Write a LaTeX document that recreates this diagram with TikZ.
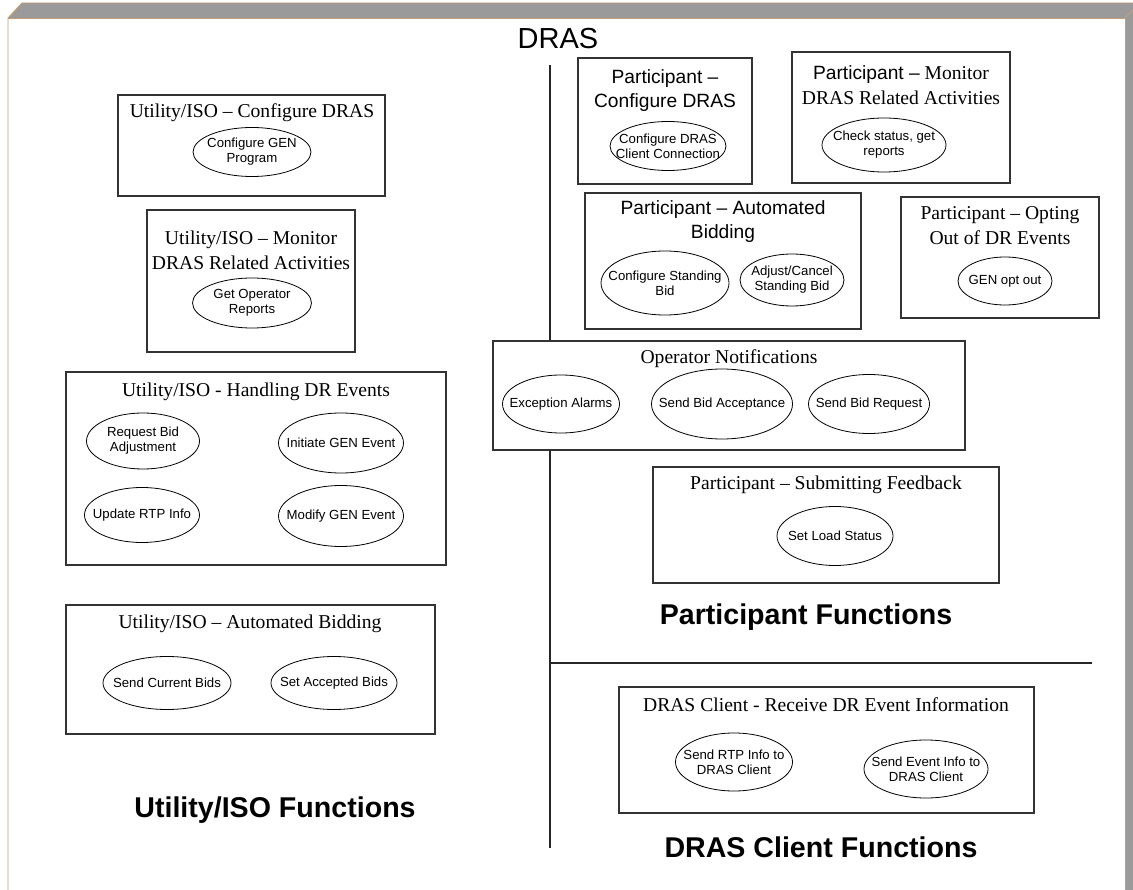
\documentclass[tikz,border=0pt]{standalone}
\usepackage{fontspec}
\setmainfont{Liberation Serif}
\setsansfont{Liberation Sans}
\usetikzlibrary{shapes.geometric}
\definecolor{framegray}{HTML}{9A9A9A}
\definecolor{frametan}{HTML}{C39E72}
\tikzset{
  box/.style={draw=black!80, fill=white, line width=1.1pt, inner sep=0pt, rectangle},
  ell/.style={ellipse, draw=black, fill=white, line width=0.8pt, inner xsep=-60pt, inner ysep=-20pt, align=center,
    font=\sffamily\fontsize{13.2}{15}\selectfont},
  sttl/.style={font=\rmfamily\fontsize{19.6}{25}\selectfont, align=center, inner sep=0pt},
  pttl/.style={font=\sffamily\fontsize{19.2}{24}\selectfont, align=center, inner sep=0pt},
  big/.style={font=\sffamily\bfseries\fontsize{28.6}{32}\selectfont, inner sep=0pt},
  divider/.style={draw=black!85, line width=1.1pt},
}
\begin{document}
\begin{tikzpicture}[x=1pt,y=-1pt]
\useasboundingbox (0,0) rectangle (1133,890);
% frame
\fill[framegray] (8,18) -- (22,3) -- (1133,3) -- (1133,890) -- (1125,890) -- (1125,18) -- cycle;
\draw[frametan, line width=0.9pt] (8,890) -- (8,18) -- (22,3) -- (1133,3);
\draw[frametan, line width=0.9pt] (8,18) -- (1125,18) -- (1125,890);
\draw[frametan, line width=0.9pt] (1125,18) -- (1133,10);

% title
\node[font=\sffamily\fontsize{29}{32}\selectfont, inner sep=0pt] (dras) at (558,39) {DRAS};

% dividers
\coordinate (vtop) at (550,65);
\coordinate (vbot) at (550,848);
\coordinate (hl) at (550,663);
\coordinate (hr) at (1092,663);
\draw[divider] (vtop) -- (vbot);
\draw[divider] (hl) -- (hr);

% ---------------- Utility/ISO side ----------------
\node[box, minimum width=267pt, minimum height=101pt] (b1) at (251.5,145.5) {};
\node[sttl] (t1) at (252,113) {Utility/ISO -- Configure DRAS};
\node[ell, minimum width=118pt, minimum height=49pt] (e1) at (252,152) {Configure GEN\\Program};

\node[box, minimum width=208pt, minimum height=142pt] (b2) at (251,281) {};
\node[sttl] (t2) at (251,250) {Utility/ISO -- Monitor\\DRAS Related Activities};
\node[ell, minimum width=119pt, minimum height=50pt] (e2) at (252,303) {Get Operator\\Reports};

\node[box, minimum width=380pt, minimum height=193pt] (b3) at (256,468.5) {};
\node[sttl] (t3) at (256,392) {Utility/ISO - Handling DR Events};
\node[ell, minimum width=113pt, minimum height=56pt] (e3) at (143,441) {Request Bid\\Adjustment};
\node[ell, minimum width=125pt, minimum height=60pt] (e4) at (341,443) {Initiate GEN Event};
\node[ell, minimum width=115pt, minimum height=55pt] (e5) at (142,515) {Update RTP Info};
\node[ell, minimum width=125pt, minimum height=61pt] (e6) at (341,516) {Modify GEN Event};

\node[box, minimum width=369pt, minimum height=129pt] (b4) at (250.5,669.5) {};
\node[sttl] (t4) at (250,624) {Utility/ISO -- Automated Bidding};
\node[ell, minimum width=128pt, minimum height=53pt] (e7) at (167,683) {Send Current Bids};
\node[ell, minimum width=126pt, minimum height=53pt] (e8) at (334,683) {Set Accepted Bids};

\node[big] (l1) at (275,810) {Utility/ISO Functions};

% ---------------- Participant side ----------------
\node[box, minimum width=174pt, minimum height=126pt] (b5) at (665,121) {};
\node[pttl] (t5) at (665,91) {Participant --\\Configure DRAS};
\node[ell, minimum width=116pt, minimum height=49pt] (e9) at (668,146) {Configure DRAS\\Client Connection};

\node[box, minimum width=218pt, minimum height=131pt] (b6) at (901,117.5) {};
\node[sttl] (t6) at (901,85) {{\sffamily\fontsize{19.2}{25}\selectfont Participant --} Monitor\\DRAS Related Activities};
\node[ell, minimum width=124pt, minimum height=54pt] (e10) at (884,145) {Check status, get\\reports};

\node[box, minimum width=276pt, minimum height=136pt] (b7) at (723,261) {};
\node[pttl] (t7) at (723,222) {Participant -- Automated\\Bidding};
\node[ell, minimum width=128pt, minimum height=64pt] (e11) at (665,283) {Configure Standing\\Bid};
\node[ell, minimum width=104pt, minimum height=52pt] (e12) at (792,280) {Adjust/Cancel\\Standing Bid};

\node[box, minimum width=198pt, minimum height=121pt] (b8) at (1000,257.5) {};
\node[sttl] (t8) at (1000,226) {Participant -- Opting\\Out of DR Events};
\node[ell, minimum width=94pt, minimum height=48pt] (e13) at (1005,281) {GEN opt out};

\node[box, minimum width=472pt, minimum height=109pt] (b9) at (729,395.5) {};
\node[sttl] (t9) at (729,359) {Operator Notifications};
\node[ell, minimum width=117pt, minimum height=58pt] (e14) at (561,404) {Exception Alarms};
\node[ell, minimum width=141pt, minimum height=70pt] (e15) at (722,404) {Send Bid Acceptance};
\node[ell, minimum width=121pt, minimum height=59pt] (e16) at (869,404) {Send Bid Request};

\node[box, minimum width=346pt, minimum height=116pt] (b10) at (826,525) {};
\node[sttl] (t10) at (826,485) {Participant -- Submitting Feedback};
\node[ell, minimum width=116pt, minimum height=59pt] (e17) at (835,536) {Set Load Status};

\node[big] (l2) at (806,617) {Participant Functions};

% ---------------- DRAS client ----------------
\node[box, minimum width=415pt, minimum height=126pt] (b11) at (826.5,750) {};
\node[sttl] (t11) at (826,705) {DRAS Client - Receive DR Event Information};
\node[ell, minimum width=117pt, minimum height=58pt] (e18) at (734,762) {Send RTP Info to\\DRAS Client};
\node[ell, minimum width=124pt, minimum height=58pt] (e19) at (926,769) {Send Event Info to\\DRAS Client};

\node[big] (l3) at (821,847) {DRAS Client Functions};
\end{tikzpicture}
\end{document}
